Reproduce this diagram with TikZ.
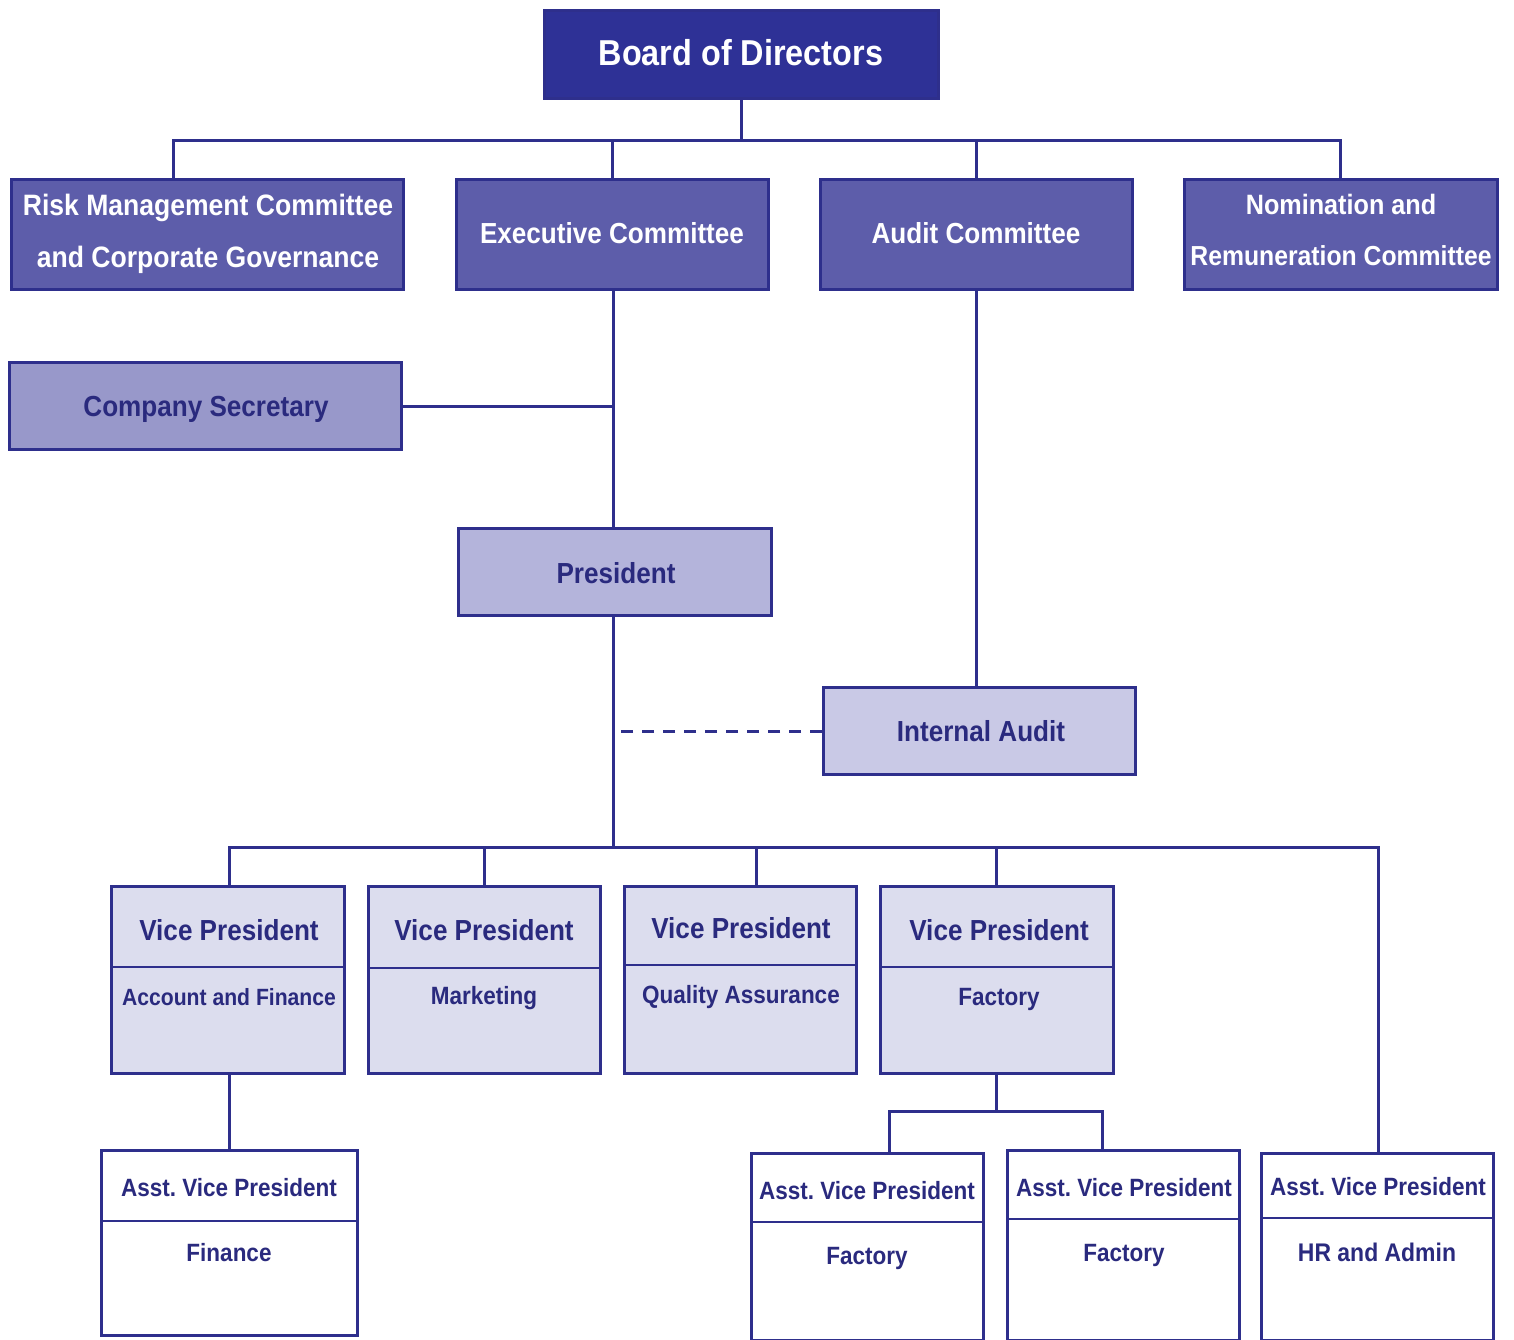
\documentclass[tikz,border=0pt]{standalone}
\usepackage{fontspec}
\setmainfont{Liberation Sans}[FakeStretch=0.9]
\definecolor{navy}{HTML}{2E2F8C}
\definecolor{boardc}{HTML}{2E3196}
\definecolor{commc}{HTML}{5D5DAA}
\definecolor{secc}{HTML}{9898CA}
\definecolor{presc}{HTML}{B4B4DB}
\definecolor{iac}{HTML}{C9C9E6}
\definecolor{vpc}{HTML}{DCDDEE}
\definecolor{txtd}{HTML}{2A2A7E}
\begin{document}
\frenchspacing
\begin{tikzpicture}[x=1pt,y=-1pt,
  box/.style={draw=navy, line width=3pt, rectangle, inner sep=0pt},
  conn/.style={draw=navy, line width=3pt},
  divider/.style={draw=navy, line width=2.6pt},
  tx/.style={inner sep=0pt, anchor=base, yshift={-0.358*#1 pt}, font=\bfseries\fontsize{#1}{#1}\selectfont},
  wt/.style={tx=#1, text=white},
  dt/.style={tx=#1, text=txtd}]
\useasboundingbox[fill=white] (0,0) rectangle (1514,1339);
% boxes
\node[box, fill=boardc, minimum width=394, minimum height=88] (board) at (741.5,54.5) {};
\node[box, fill=commc, minimum width=392, minimum height=110] (risk) at (207.5,234.5) {};
\node[box, fill=commc, minimum width=312, minimum height=110] (exec) at (612.5,234.5) {};
\node[box, fill=commc, minimum width=312, minimum height=110] (audit) at (976.5,234.5) {};
\node[box, fill=commc, minimum width=313, minimum height=110] (nom) at (1341,234.5) {};
\node[box, fill=secc, minimum width=392, minimum height=87] (sec) at (205.5,406) {};
\node[box, fill=presc, minimum width=313, minimum height=87] (pres) at (615,572) {};
\node[box, fill=iac, minimum width=312, minimum height=87] (ia) at (979.5,731) {};
\node[box, fill=vpc, minimum width=233, minimum height=187] (vp1) at (228,980) {};
\node[box, fill=vpc, minimum width=232, minimum height=187] (vp2) at (484.5,980) {};
\node[box, fill=vpc, minimum width=232, minimum height=187] (vp3) at (740.5,980) {};
\node[box, fill=vpc, minimum width=233, minimum height=187] (vp4) at (997,980) {};
\node[box, fill=white, minimum width=256, minimum height=185] (avpf) at (229.5,1243) {};
\node[box, fill=white, minimum width=232, minimum height=187] (avp1) at (867.5,1247) {};
\node[box, fill=white, minimum width=232, minimum height=190] (avp2) at (1123.5,1245.5) {};
\node[box, fill=white, minimum width=232, minimum height=187] (avph) at (1377.5,1247) {};
% dividers
\draw[divider] (vp1.west |- 0,967) -- (vp1.east |- 0,967);
\draw[divider] (vp2.west |- 0,968) -- (vp2.east |- 0,968);
\draw[divider] (vp3.west |- 0,965) -- (vp3.east |- 0,965);
\draw[divider] (vp4.west |- 0,967) -- (vp4.east |- 0,967);
\draw[divider] (avpf.west |- 0,1221) -- (avpf.east |- 0,1221);
\draw[divider] (avp1.west |- 0,1222) -- (avp1.east |- 0,1222);
\draw[divider] (avp2.west |- 0,1219) -- (avp2.east |- 0,1219);
\draw[divider] (avph.west |- 0,1218) -- (avph.east |- 0,1218);
% texts
\node[wt=36] (tboard) at (741,53) {Board of Directors};
\node[wt=29.5] (trisk1) at (208,205) {Risk Management Committee};
\node[wt=29.5] (trisk2) at (208,257) {and Corporate Governance};
\node[wt=29] (texec) at (612,233) {Executive Committee};
\node[wt=29] (taudit) at (976,233) {Audit Committee};
\node[wt=28] (tnom1) at (1341,204) {Nomination and};
\node[wt=27.5] (tnom2) at (1341,256) {Remuneration Committee};
\node[dt=29] (tsec) at (206,406) {Company Secretary};
\node[dt=29] (tpres) at (616,573) {President};
\node[dt=29] (tia) at (981,731) {Internal Audit};
\node[dt=29] (tvp1) at (229,930) {Vice President};
\node[dt=29] (tvp2) at (484,930) {Vice President};
\node[dt=29] (tvp3) at (741,928) {Vice President};
\node[dt=29] (tvp4) at (999,930) {Vice President};
\node[dt=23.5] (svp1) at (229,997) {Account and Finance};
\node[dt=25] (svp2) at (484,996) {Marketing};
\node[dt=25] (svp3) at (741,995) {Quality Assurance};
\node[dt=25] (svp4) at (999,997) {Factory};
\node[dt=25] (tavpf) at (229,1188) {Asst. Vice President};
\node[dt=25] (tavp1) at (867,1191) {Asst. Vice President};
\node[dt=25] (tavp2) at (1124,1188) {Asst. Vice President};
\node[dt=25] (tavph) at (1378,1187) {Asst. Vice President};
\node[dt=25] (savpf) at (229,1253) {Finance};
\node[dt=25] (savp1) at (867,1256) {Factory};
\node[dt=25] (savp2) at (1124,1253) {Factory};
\node[dt=25.5] (savph) at (1377,1252) {HR and Admin};
% connector coordinates
\coordinate (busAL) at (173,140);
\coordinate (busAR) at (1340,140);
\coordinate (busBL) at (229,847);
\coordinate (busBR) at (1378,847);
\coordinate (trunk) at (613,847);
\coordinate (d3) at (756,847);
\coordinate (fbus) at (996,1111);
\coordinate (fbusL) at (889,1111);
\coordinate (fbusR) at (1102,1111);
% connectors
\draw[conn] (board.south) -- (board.south |- busAL);
\draw[conn] (risk.north -| busAL) -- (busAL) -- (busAR) -- (nom.north -| busAR);
\draw[conn] (exec.north) -- (exec.north |- busAL);
\draw[conn] (audit.north) -- (audit.north |- busAL);
\draw[conn] (exec.south -| trunk) -- (pres.north -| trunk);
\draw[conn] (sec.east) -- (sec.east -| trunk);
\draw[conn] (audit.south) -- (audit.south |- ia.north);
\draw[navy, line width=3pt, dash pattern=on 12pt off 9pt] (ia.west) -- (ia.west -| trunk);
\draw[conn] (pres.south -| trunk) -- (trunk);
\draw[conn] (vp1.north -| busBL) -- (busBL) -- (busBR) -- (avph.north -| busBR);
\draw[conn] (vp2.north) -- (vp2.north |- busBL);
\draw[conn] (d3) -- (d3 |- vp3.north);
\draw[conn] (vp4.north -| fbus) -- (fbus |- busBL);
\draw[conn] (vp1.south -| busBL) -- (avpf.north -| busBL);
\draw[conn] (vp4.south -| fbus) -- (fbus);
\draw[conn] (avp1.north -| fbusL) -- (fbusL) -- (fbusR) -- (avp2.north -| fbusR);
\end{tikzpicture}
\end{document}
